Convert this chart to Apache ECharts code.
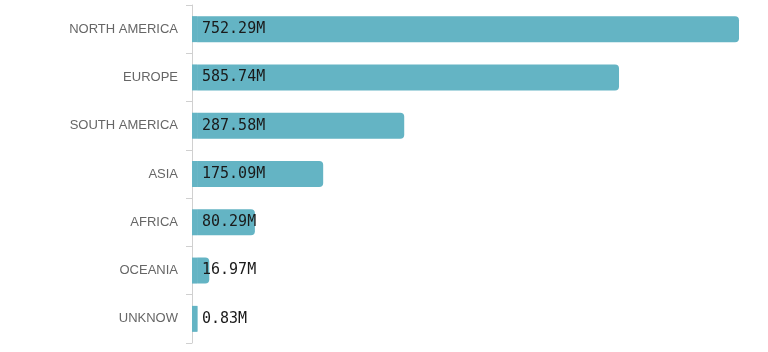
<!DOCTYPE html>
<html>
<head>
<meta charset="utf-8">
<script src="https://cdn.jsdelivr.net/npm/echarts@6/dist/echarts.min.js"></script>
<style>html,body{margin:0;padding:0;background:#fff}#c{width:768px;height:352px}</style>
</head>
<body>
<div id="c"></div>
<script>
const categories = ['NORTH AMERICA', 'EUROPE', 'SOUTH AMERICA', 'ASIA', 'AFRICA', 'OCEANIA', 'UNKNOW'];
const values = [752.29, 585.74, 287.58, 175.09, 80.29, 16.97, 0.83];
const stub = 7; // short base segment drawn before each bar

const chart = echarts.init(document.getElementById('c'));
chart.setOption({
  animation: false,
  grid: { left: 192, right: 29, top: 5, bottom: 9 },
  xAxis: { type: 'value', min: 0, max: 'dataMax', show: false },
  yAxis: {
    type: 'category', data: categories, inverse: true,
    axisLine: { show: true, onZero: false, lineStyle: { color: '#d0d0d0' } },
    axisTick: { show: true, length: 6, lineStyle: { color: '#d0d0d0' } },
    axisLabel: { margin: 14, color: '#666', fontSize: 13, fontFamily: 'Liberation Sans, Arial, sans-serif' }
  },
  series: [{
    type: 'bar', stack: 'b', data: categories.map(() => stub), barWidth: 26,
    itemStyle: { color: '#64b4c4' }, silent: true,
    label: {
      show: true, position: 'insideLeft', distance: 10,
      formatter: p => values[p.dataIndex].toFixed(2) + 'M',
      color: '#1a1a1a', fontSize: 15, fontFamily: 'DejaVu Sans Mono, monospace'
    },
    z: 3
  }, {
    type: 'bar', stack: 'b', data: values, barWidth: 26,
    itemStyle: { color: '#64b4c4', borderRadius: [0, 4, 4, 0] },
    z: 2
  }]
});
</script>
</body>
</html>
